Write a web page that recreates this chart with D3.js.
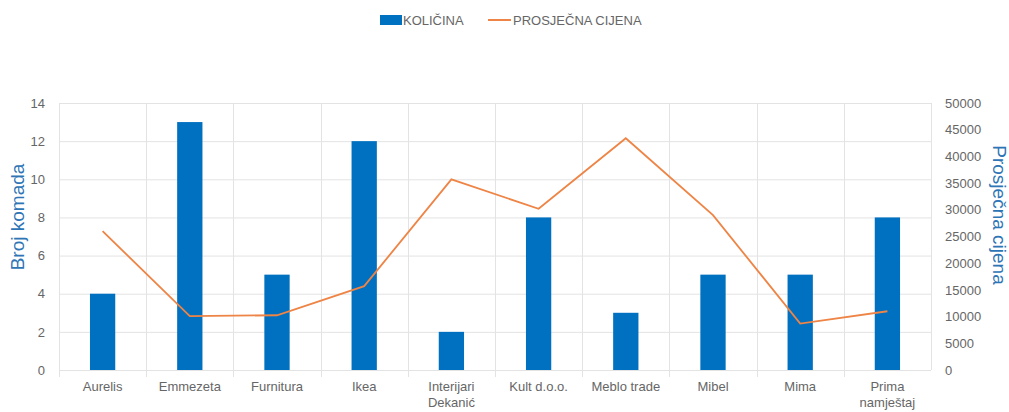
<!DOCTYPE html>
<html>
<head>
<meta charset="utf-8">
<script src="https://cdn.jsdelivr.net/npm/d3@7"></script>
<style>
  body { margin: 0; background: #fff; }
  text { font-family: "Liberation Sans", "DejaVu Sans", sans-serif; }
</style>
</head>
<body>
<div id="chart-area"></div>
<script>
// data
var categories = ["Aurelis", "Emmezeta", "Furnitura", "Ikea", "Interijari Dekanić",
                  "Kult d.o.o.", "Meblo trade", "Mibel", "Mima", "Prima namještaj"];
var kolicina = [4, 13, 5, 12, 2, 8, 3, 5, 5, 8];
var prosjecnaCijena = [26000, 10100, 10250, 15700, 35700, 30200, 43400, 29000, 8700, 11000];
var leftTicks = [0, 2, 4, 6, 8, 10, 12, 14];
var rightTicks = [0, 5000, 10000, 15000, 20000, 25000, 30000, 35000, 40000, 45000, 50000];

const svgWidth = 1009;
const svgHeight = 412;
var margin = {left:59, right:78, top:103, bottom:42};
var chartWidth = svgWidth - margin.left - margin.right,
    chartHeight = svgHeight - margin.top - margin.bottom;

var barColor = "#0070C0",
    lineColor = "#EE8445",
    textColor = "#666666",
    gridColor = "#E3E3E3",
    titleColor = "#2E75B6";

var root = d3.select("#chart-area")
  .append("svg")
    .attr("width", svgWidth)
    .attr("height", svgHeight);

var svg = root.append("g")
  .attr("transform", "translate("+margin.left+","+margin.top+")");

var x = d3.scaleBand()
  .domain(categories)
  .range([0, chartWidth]);

var yLeft = d3.scaleLinear().domain([0, 14]).range([chartHeight, 0]);
var yRight = d3.scaleLinear().domain([0, 50000]).range([chartHeight, 0]);

// horizontal gridlines
svg.selectAll(".hgrid")
  .data(leftTicks)
  .enter().append("line")
    .attr("class", "hgrid")
    .attr("x1", 0).attr("x2", chartWidth)
    .attr("y1", function(d){ return yLeft(d) + 0.5; })
    .attr("y2", function(d){ return yLeft(d) + 0.5; })
    .attr("stroke", gridColor);

// vertical gridlines at category boundaries (ticks extend below axis)
var bounds = d3.range(categories.length + 1).map(function(i){ return i * x.step(); });
svg.selectAll(".vgrid")
  .data(bounds)
  .enter().append("line")
    .attr("class", "vgrid")
    .attr("x1", function(d){ return Math.round(d) + 0.5; })
    .attr("x2", function(d){ return Math.round(d) + 0.5; })
    .attr("y1", 0)
    .attr("y2", function(d, i){ return (i === categories.length) ? chartHeight : chartHeight + 7; })
    .attr("stroke", gridColor);

// left axis
var leftAxis = svg.append("g")
  .call(d3.axisLeft(yLeft).tickValues(leftTicks).tickSize(0).tickPadding(14));
leftAxis.select(".domain").remove();
leftAxis.selectAll("text")
  .attr("fill", textColor)
  .attr("font-size", "13px");

// right axis
var rightAxis = svg.append("g")
  .attr("transform", "translate("+chartWidth+",0)")
  .call(d3.axisRight(yRight).tickValues(rightTicks).tickFormat(d3.format("d")).tickSize(0).tickPadding(14));
rightAxis.select(".domain").remove();
rightAxis.selectAll("text")
  .attr("fill", textColor)
  .attr("font-size", "13px");

// bottom axis labels (wrapped)
var xAxis = svg.append("g")
  .attr("transform", "translate(0,"+chartHeight+")")
  .call(d3.axisBottom(x).tickSize(0).tickPadding(12));
xAxis.select(".domain").remove();
xAxis.selectAll("text")
  .attr("fill", textColor)
  .attr("font-size", "13px")
  .each(function(d){
    var t = d3.select(this);
    var words = d.split(" ");
    // wrap only the long two-word names
    if (d === "Interijari Dekanić" || d === "Prima namještaj") {
      t.text(null);
      var dy = t.attr("dy");
      words.forEach(function(w, i){
        t.append("tspan")
          .attr("x", 0)
          .attr("dy", i === 0 ? dy : "1.2em")
          .text(w);
      });
    }
  });

// bars
var barWidth = x.bandwidth() * 0.29;
svg.selectAll(".bar")
  .data(categories)
  .enter().append("rect")
    .attr("class", "bar")
    .attr("x", function(d){ return x(d) + x.bandwidth()/2 - barWidth/2; })
    .attr("y", function(d, i){ return yLeft(kolicina[i]); })
    .attr("width", barWidth)
    .attr("height", function(d, i){ return chartHeight - yLeft(kolicina[i]); })
    .attr("fill", barColor);

// line
var line = d3.line()
  .x(function(d, i){ return x(categories[i]) + x.bandwidth()/2; })
  .y(function(d){ return yRight(d); });

svg.append("path")
  .datum(prosjecnaCijena)
  .attr("d", line)
  .attr("fill", "none")
  .attr("stroke", lineColor)
  .attr("stroke-width", 1.8);

// axis titles
root.append("text")
  .attr("transform", "translate(24,217) rotate(-90)")
  .attr("text-anchor", "middle")
  .attr("fill", titleColor)
  .attr("font-size", "19px")
  .text("Broj komada");

root.append("text")
  .attr("transform", "translate(993,215) rotate(90)")
  .attr("text-anchor", "middle")
  .attr("fill", titleColor)
  .attr("font-size", "19px")
  .text("Prosječna cijena");

// legend
var legend = root.append("g").attr("font-size", "13px");
legend.append("rect")
  .attr("x", 380).attr("y", 15)
  .attr("width", 22).attr("height", 10)
  .attr("fill", barColor);
legend.append("text")
  .attr("x", 403).attr("y", 25)
  .attr("fill", textColor)
  .text("KOLIČINA");
legend.append("line")
  .attr("x1", 488).attr("x2", 511)
  .attr("y1", 20).attr("y2", 20)
  .attr("stroke", lineColor)
  .attr("stroke-width", 2);
legend.append("text")
  .attr("x", 513).attr("y", 25)
  .attr("fill", textColor)
  .text("PROSJEČNA CIJENA");
</script>
</body>
</html>
